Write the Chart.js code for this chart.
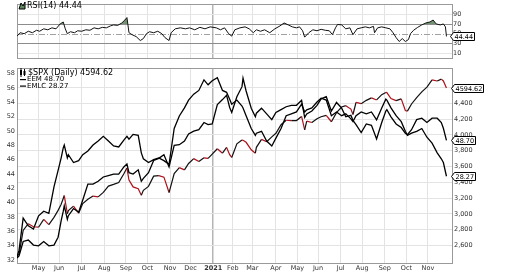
<!DOCTYPE html>
<html><head><meta charset="utf-8">
<script src="https://cdn.jsdelivr.net/npm/chart.js@4.4.0/dist/chart.umd.min.js"></script>
<style>
html,body{margin:0;padding:0;background:#fff;}
#wrap{position:relative;width:520px;height:272px;overflow:hidden;background:#fff;}
#rsi{position:absolute;left:0;top:0;}
#main{position:absolute;left:0;top:63px;}
</style></head><body>
<div id="wrap"><canvas id="rsi" width="520" height="63"></canvas><canvas id="main" width="520" height="209"></canvas></div>
<script>
const FONT = "'DejaVu Sans', Verdana, sans-serif";

// x positions are trading-day numbers (0 = 23 Mar 2020)
const monthDays   = [28,48,70,92,113,134,156,176,198,217,236,259,280,300,322,343,365,386,407];
const monthLabels = ['May','Jun','Jul','Aug','Sep','Oct','Nov','Dec','2021','Feb','Mar','Apr','May','Jun','Jul','Aug','Sep','Oct','Nov'];
const spxTicks = [2600,2800,3000,3200,3400,3600,3800,4000,4200,4400,4600];
const eemTicks = [32,34,36,38,40,42,44,46,48,50,52,54,56,58];
const rsiTicks = [10,30,50,70,90];

const days = [7,9,13,18,23,28,33,38,43,47,
 50,52,53,56,57,62,67,71,76,81,
 86,91,96,101,106,111,114,116,120,125,
 128,130,135,140,145,150,155,160,165,170,
 174,179,184,189,193,197,202,207,211,214,
 216,221,226,227,230,235,239,240,245,250,
 255,259,264,269,274,279,284,287,289,294,
 299,303,308,313,318,323,327,332,334,337,
 342,347,352,357,362,366,367,371,376,381,
 385,387,391,396,401,406,411,416,420,422,
 425];
const spxValues = [2470,2489,2790,2875,2837,2831,2930,2864,2955,3044,
 3122,3194,3232,3002,3041,3098,3009,3130,3185,3225,
 3215,3271,3351,3373,3397,3508,3580,3427,3341,3319,
 3237,3298,3348,3477,3484,3465,3270,3509,3585,3557,
 3638,3699,3663,3709,3703,3756,3824,3768,3841,3750,
 3714,3886,3934,3932,3906,3811,3768,3842,3943,3913,
 3975,4020,4129,4185,4180,4181,4233,4063,4174,4156,
 4204,4230,4247,4166,4281,4352,4370,4327,4258,4412,
 4395,4437,4468,4442,4509,4537,4535,4459,4433,4455,
 4308,4300,4391,4471,4545,4605,4697,4682,4705,4682,
 4594.62];
const eemValues = [32.3,32.6,34.6,34.8,34.1,34.0,34.6,34.0,34.1,35.2,
 37.5,38.8,39.6,37.7,38.2,39.2,38.7,40.4,42.6,42.6,
 43.0,43.6,43.8,44.0,44.0,45.0,45.4,44.2,44.0,44.6,
 43.0,43.4,44.2,45.9,46.2,46.7,45.0,48.0,48.1,48.6,
 49.6,50.0,50.2,51.2,50.9,51.0,53.7,54.4,55.0,53.3,
 52.6,54.8,56.2,57.4,55.6,53.2,52.0,52.5,53.2,52.4,
 51.6,52.6,53.0,53.4,53.6,53.6,54.3,51.9,52.4,52.8,
 53.6,54.5,54.8,52.8,54.0,53.2,52.0,52.2,51.5,50.9,
 49.8,51.0,50.8,48.9,51.2,52.8,53.0,52.0,51.0,50.5,
 49.7,49.5,50.2,51.6,51.8,51.2,51.8,51.8,51.2,50.4,
 48.70];
const emlcValues = [25.68,25.9,26.93,26.68,26.58,27.0,27.15,27.08,27.93,28.46,
 28.86,29.18,29.27,28.86,28.96,28.71,28.77,28.96,29.08,29.27,
 29.4,29.55,29.4,29.24,29.21,29.43,29.55,29.46,29.61,29.58,
 29.02,28.83,28.71,28.8,28.86,28.77,28.65,29.8,30.2,30.46,
 30.71,30.9,31.02,31.36,31.2,31.33,31.43,31.02,30.96,30.74,
 30.58,30.71,30.52,30.46,30.21,29.8,29.58,29.65,29.71,29.4,
 29.24,29.49,29.8,30.21,30.27,30.33,30.58,30.33,30.4,30.46,
 30.65,30.77,30.71,30.21,30.33,30.21,30.27,30.11,30.02,30.21,
 30.33,30.27,30.33,30.08,30.46,30.74,30.71,30.46,30.21,30.02,
 29.71,29.58,29.65,29.71,29.8,29.52,29.33,29.02,28.83,28.71,
 28.27];
const rsiDays = [7,10,14,18,22,26,29,33,37,41,45,49,52,54,56,59,63,66,70,74,78,82,86,90,94,98,101,105,109,112,
 114,116,119,123,127,130,133,136,140,144,148,151,155,157,161,166,171,175,180,185,190,195,201,205,209,213,216,219,224,229,
 233,237,240,244,248,253,258,263,267,271,275,279,282,285,287,291,295,299,303,307,311,314,317,319,323,327,331,334,338,342,
 346,350,354,355,358,362,366,370,373,376,379,382,385,388,390,393,397,401,405,409,412,415,419,422,424,425];
const rsiValues = [45,52,50,55,52,57,55,60,58,62,60,70,74,60,50,54,52,56,55,58,57,62,60,63,62,66,68,67,72,78,
 83,52,48,44,36,40,50,54,52,55,50,42,36,52,60,62,60,62,58,63,60,64,62,58,62,50,45,58,62,64,
 60,52,58,55,58,52,60,66,72,68,64,62,64,56,43,52,58,56,59,57,56,48,62,69,68,60,62,48,60,62,
 64,62,65,52,62,64,62,60,52,42,34,40,34,38,50,57,63,68,72,74,78,70,68,70,64,44.44];

const last = a => a[a.length-1];
const pts = (xs, ys) => xs.map((x,i)=>({x, y: ys[i]}));
const TXT = '#333';

function xAxis(showLabels){
  return {
    type:'linear', min:7, max:430.4,
    afterBuildTicks: a => { a.ticks = monthDays.map(v=>({value:v})); },
    ticks:{display:showLabels, autoSkip:false, maxRotation:0, padding:1, color:TXT,
      font: c => ({family:FONT, size:6.5, weight: monthLabels[c.index]==='2021' ? 'bold':'normal'}),
      callback:(v,i)=>monthLabels[i]},
    grid:{drawTicks:false, color: c => monthLabels[c.index]==='2021' ? '#b5b5b5' : '#e3e3e3',
      lineWidth: c => monthLabels[c.index]==='2021' ? 1.5 : 1},
    border:{display:false},
    afterFit: s => { s.height = showLabels ? 9 : 0; }
  };
}

function drawTag(ctx, x, y, text){
  ctx.save();
  ctx.font = "6.5px " + FONT;
  const w = Math.ceil(ctx.measureText(text).width);
  const h = 8, a = 3;
  y = Math.round(y);
  ctx.beginPath();
  ctx.moveTo(x+0.5, y+0.5);
  ctx.lineTo(x+a+0.5, y-h/2+0.5);
  ctx.lineTo(x+a+w+2.5, y-h/2+0.5);
  ctx.lineTo(x+a+w+2.5, y+h/2+0.5);
  ctx.lineTo(x+a+0.5, y+h/2+0.5);
  ctx.closePath();
  ctx.fillStyle='#fff'; ctx.fill();
  ctx.strokeStyle='#000'; ctx.lineWidth=1; ctx.stroke();
  ctx.fillStyle='#000'; ctx.textAlign='left'; ctx.textBaseline='middle';
  ctx.fillText(text, x+a+1.5, y+1);
  ctx.restore();
}

const frame = {
  id:'frame',
  beforeDatasetsDraw(c){
    const {ctx, chartArea:a} = c;
    ctx.save();
    if (c.scales.yRSI){
      const y = c.scales.yRSI;
      ctx.lineWidth = 1;
      [70,30].forEach(v=>{
        const py = Math.round(y.getPixelForValue(v))+0.5;
        ctx.strokeStyle='#8c8c8c';
        ctx.beginPath(); ctx.moveTo(a.left,py); ctx.lineTo(a.right,py); ctx.stroke();
      });
      const p5 = Math.round(y.getPixelForValue(50))+0.5;
      ctx.strokeStyle='#a0a0a0'; ctx.setLineDash([6,2,1,2]);
      ctx.beginPath(); ctx.moveTo(a.left,p5); ctx.lineTo(a.right,p5); ctx.stroke();
      ctx.setLineDash([]);
    }
    ctx.strokeStyle='#9a9a9a'; ctx.lineWidth=1;
    ctx.strokeRect(Math.round(a.left)+0.5, Math.round(a.top)-0.5, Math.round(a.right-a.left), Math.round(a.bottom-a.top)+1);
    ctx.restore();
  }
};

const rsiLabels = {
  id:'rsiLabels',
  afterDraw(c){
    const ctx = c.ctx;
    ctx.save();
    ctx.strokeStyle='#000'; ctx.lineWidth=1;
    ctx.fillStyle='#5f8a5f';
    ctx.beginPath(); ctx.moveTo(19,9); ctx.lineTo(21,3); ctx.lineTo(23,6); ctx.lineTo(25,2); ctx.lineTo(25,9); ctx.closePath(); ctx.fill(); ctx.stroke();
    ctx.fillStyle='#000'; ctx.font = "8px " + FONT; ctx.textBaseline='middle'; ctx.textAlign='left';
    ctx.fillText('RSI(14) ' + last(rsiValues).toFixed(2), 27, 5.5);
    drawTag(ctx, 450, c.scales.yRSI.getPixelForValue(last(rsiValues)), last(rsiValues).toFixed(2));
    ctx.restore();
  }
};

const mainLabels = {
  id:'mainLabels',
  afterDraw(c){
    const ctx = c.ctx;
    ctx.save();
    ctx.fillStyle='#000'; ctx.strokeStyle='#000'; ctx.lineWidth=1;
    ctx.fillRect(20,7,2,5); ctx.beginPath(); ctx.moveTo(21,5); ctx.lineTo(21,14); ctx.stroke();
    ctx.fillRect(23.5,8,2,4); ctx.beginPath(); ctx.moveTo(24.5,6); ctx.lineTo(24.5,13); ctx.stroke();
    ctx.textBaseline='middle'; ctx.textAlign='left';
    ctx.font = "8px " + FONT;
    ctx.fillText('$SPX (Daily) ' + last(spxValues).toFixed(2), 28, 10);
    ctx.font = "7px " + FONT;
    ctx.fillRect(20,16,6,1.2);
    ctx.fillText('EEM ' + last(eemValues).toFixed(2), 27, 16.5);
    ctx.fillRect(20,22.5,6,1.2);
    ctx.fillText('EMLC ' + last(emlcValues).toFixed(2), 27, 23);
    const s = c.scales;
    drawTag(ctx, 451, s.ySPX.getPixelForValue(last(spxValues)), last(spxValues).toFixed(2));
    drawTag(ctx, 451, s.yEEM.getPixelForValue(last(eemValues)), last(eemValues).toFixed(2));
    drawTag(ctx, 451, s.yEMLC.getPixelForValue(last(emlcValues)), last(emlcValues).toFixed(2));
    ctx.restore();
  }
};

new Chart(document.getElementById('rsi'), {
  type:'line',
  data:{datasets:[{
    data: pts(rsiDays, rsiValues), yAxisID:'yRSI', borderColor:'#111', borderWidth:1, pointRadius:0, tension:0,
    fill:{target:{value:70}, above:'rgba(88,128,88,0.85)', below:'rgba(0,0,0,0)'}
  }]},
  options:{
    responsive:false, animation:false, events:[],
    layout:{padding:{top:1,bottom:1,left:17,right:0}},
    plugins:{legend:{display:false}, tooltip:{enabled:false}},
    scales:{
      x: xAxis(false),
      yRSI:{position:'right', min:0, max:109,
        afterBuildTicks: a => { a.ticks = rsiTicks.map(v=>({value:v})); },
        ticks:{padding:1, color:TXT, font:{family:FONT,size:6.5}},
        grid:{drawTicks:false, color: c => (c.tick && (c.tick.value===10||c.tick.value===90)) ? '#e6e6e6' : 'rgba(0,0,0,0)'},
        border:{display:false},
        afterFit: s => { s.width = 68; }
      }
    }
  },
  plugins:[frame, rsiLabels]
});

new Chart(document.getElementById('main'), {
  type:'line',
  data:{datasets:[
    {label:'EMLC', data: pts(days, emlcValues), yAxisID:'yEMLC', borderColor:'#000', borderWidth:1.3, pointRadius:0, tension:0},
    {label:'EEM', data: pts(days, eemValues), yAxisID:'yEEM', borderColor:'#000', borderWidth:1.3, pointRadius:0, tension:0},
    {label:'$SPX', data: pts(days, spxValues), yAxisID:'ySPX', borderColor:'#000', borderWidth:1.2, pointRadius:0, tension:0,
      segment:{borderColor: c => c.p1.parsed.y < c.p0.parsed.y ? '#b0101a' : '#111'}}
  ]},
  options:{
    responsive:false, animation:false, events:[],
    layout:{padding:{top:1,bottom:0,left:0,right:0}},
    plugins:{legend:{display:false}, tooltip:{enabled:false}},
    scales:{
      x: xAxis(true),
      yEEM:{position:'left', min:31.6, max:58.68,
        afterBuildTicks: a => { a.ticks = eemTicks.map(v=>({value:v})); },
        ticks:{padding:2, color:TXT, font:{family:FONT,size:6.5}},
        grid:{display:false, drawTicks:false},
        border:{display:false},
        afterFit: s => { s.width = 17; }
      },
      ySPX:{position:'right', min:2378, max:4835,
        afterBuildTicks: a => { a.ticks = spxTicks.map(v=>({value:v})); },
        ticks:{padding:2, color:TXT, font:{family:FONT,size:6.5}},
        grid:{drawTicks:false, color:'#e3e3e3'},
        border:{display:false},
        afterFit: s => { s.width = 68; }
      },
      yEMLC:{display:false, min:25.49, max:31.71}
    }
  },
  plugins:[frame, mainLabels]
});
</script>
</body></html>
